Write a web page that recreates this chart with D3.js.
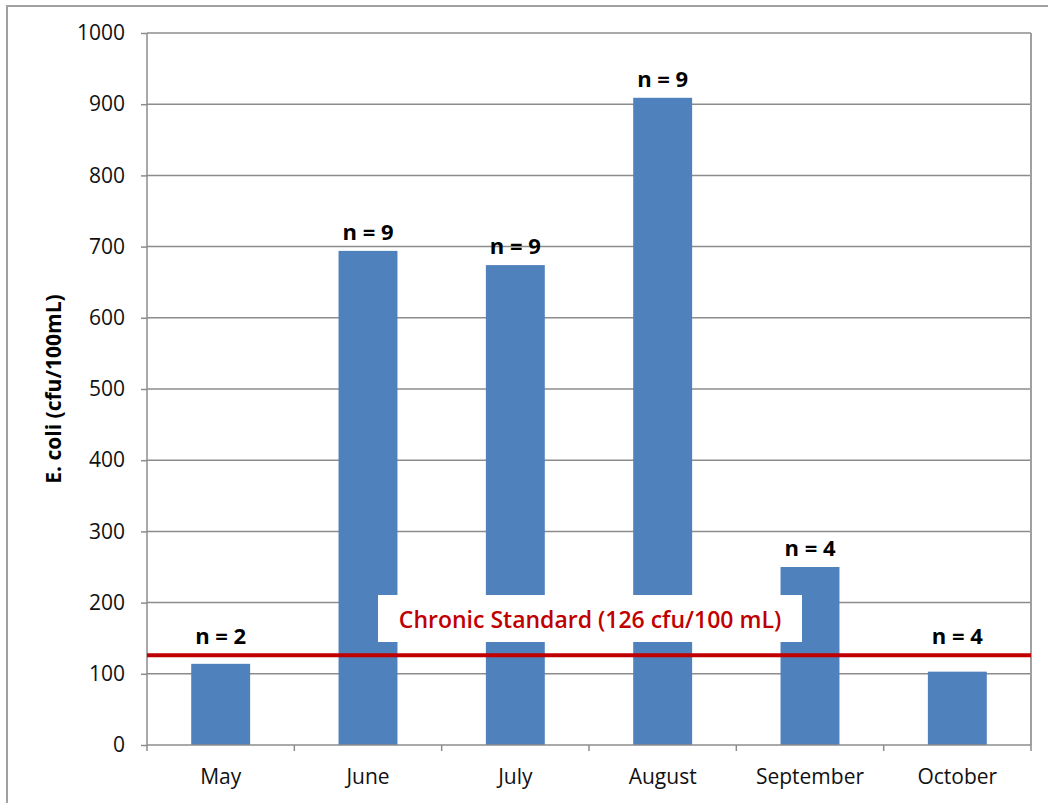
<!DOCTYPE html>
<html lang="en">
<head>
<meta charset="utf-8">
<script src="https://cdnjs.cloudflare.com/ajax/libs/d3/7.8.5/d3.min.js"></script>
<style>
  body { margin: 0; background: #fff; }
  text { font-family: "Open Sans", "Noto Sans", sans-serif; }
  .grid line { stroke: #8c8c8c; stroke-width: 1.5; }
  .axis path, .axis line { stroke: #8c8c8c; stroke-width: 1.5; }
  .axis text { font-size: 21px; fill: #111; }
</style>
</head>
<body>
<script>

var months = ["May", "June", "July", "August", "September", "October"];
var ecoli = [114, 694, 674, 909, 250, 103];
var counts = [2, 9, 9, 9, 4, 4];
var yTicks = [0, 100, 200, 300, 400, 500, 600, 700, 800, 900, 1000];
var standard = 126;
var standardLabel = "Chronic Standard (126 cfu/100 mL)";

var W = 1048, H = 803;
var margin = {top: 33, right: 17, bottom: 58, left: 147},
    width = W - margin.left - margin.right,
    height = H - margin.top - margin.bottom;

var svg = d3.select("body").append("svg")
    .attr("width", W)
    .attr("height", H);

// chart border
svg.append("path")
    .attr("d", "M7,803 V6 H1048")
    .attr("fill", "none")
    .attr("stroke", "#a0a0a0")
    .attr("stroke-width", 2);

var g = svg.append("g")
    .attr("transform", "translate(" + margin.left + "," + margin.top + ")");

var x = d3.scaleBand().domain(months).range([0, width]).paddingInner(0.6).paddingOuter(0.3);
var xb = d3.scaleBand().domain(months).range([0, width]);
var y = d3.scaleLinear().domain([0, 1000]).range([height, 0]);

// gridlines
g.append("g").attr("class", "grid")
  .selectAll("line")
  .data(yTicks.slice(1))
  .enter().append("line")
    .attr("x1", 0).attr("x2", width)
    .attr("y1", function(d) { return y(d); })
    .attr("y2", function(d) { return y(d); });

g.append("line")
    .attr("x1", width).attr("x2", width)
    .attr("y1", 0).attr("y2", height)
    .attr("stroke", "#a0a0a0").attr("stroke-width", 2);

// bars
g.selectAll(".bar")
  .data(ecoli)
  .enter().append("rect")
    .attr("class", "bar")
    .attr("x", function(d, i) { return x(months[i]); })
    .attr("width", x.bandwidth())
    .attr("y", function(d) { return y(d); })
    .attr("height", function(d) { return height - y(d); })
    .attr("fill", "#4f81bd");

// n labels (kept above the standard line for short bars)
g.selectAll(".nlab")
  .data(counts)
  .enter().append("text")
    .attr("class", "nlab")
    .attr("x", function(d, i) { return x(months[i]) + x.bandwidth() / 2; })
    .attr("y", function(d, i) { return Math.min(y(ecoli[i]), y(standard)) - 11; })
    .attr("text-anchor", "middle")
    .style("font-size", "22px")
    .style("font-weight", "bold")
    .text(function(d) { return "n = " + d; });

// axes
g.append("g").attr("class", "axis")
    .call(d3.axisLeft(y).tickValues(yTicks).tickFormat(d3.format("d")).tickSize(6).tickPadding(16))
    .call(function(s) { s.select(".domain").attr("d", "M0,0V" + height); });

var xAxis = g.append("g").attr("class", "axis")
    .attr("transform", "translate(0," + height + ")");
xAxis.append("line").attr("x1", 0).attr("x2", width);
xAxis.selectAll(".tk")
  .data(d3.range(months.length + 1))
  .enter().append("line")
    .attr("x1", function(i) { return i * xb.step(); })
    .attr("x2", function(i) { return i * xb.step(); })
    .attr("y1", 0).attr("y2", 6);
xAxis.selectAll(".lbl")
  .data(months)
  .enter().append("text")
    .attr("x", function(d) { return xb(d) + xb.bandwidth() / 2; })
    .attr("y", 39)
    .attr("text-anchor", "middle")
    .text(function(d) { return d; });

// y label
svg.append("text")
    .attr("transform", "translate(61," + (margin.top + height / 2) + ") rotate(-90)")
    .attr("text-anchor", "middle")
    .style("font-size", "21px")
    .style("font-weight", "bold")
    .text("E. coli (cfu/100mL)");

// standard line + label
g.append("line")
    .attr("x1", 0).attr("x2", width)
    .attr("y1", y(standard)).attr("y2", y(standard))
    .attr("stroke", "#c00000")
    .attr("stroke-width", 4);

g.append("rect")
    .attr("x", 378 - margin.left).attr("y", 595 - margin.top)
    .attr("width", 424).attr("height", 47)
    .attr("fill", "#fff");

g.append("text")
    .attr("x", 590 - margin.left).attr("y", 628 - margin.top)
    .attr("text-anchor", "middle")
    .style("font-size", "23px")
    .style("font-weight", "600")
    .attr("fill", "#c00000")
    .text(standardLabel);

</script>
</body>
</html>
